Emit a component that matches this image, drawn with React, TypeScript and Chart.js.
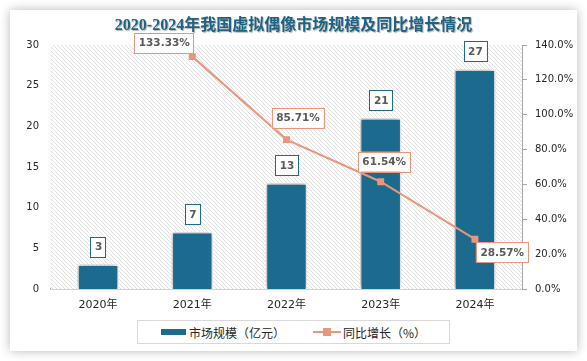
import React, { useEffect, useRef } from "react";
import { Chart, registerables } from "chart.js";

Chart.register(...registerables);

const categories = ["2020年", "2021年", "2022年", "2023年", "2024年"];
const marketSize = [3, 7, 13, 21, 27];
const growthRate: (number | null)[] = [null, 133.33, 85.71, 61.54, 28.57];
const growthLabelPlacement = ["", "left-above", "above-right", "above", "right-below"];
const titleText = "2020-2024年我国虚拟偶像市场规模及同比增长情况";
const legendBar = "市场规模（亿元）";
const legendLine = "同比增长（%）";

const BAR_COLOR = "#1c6b8e";
const LINE_COLOR = "#e9967a";
const LABEL_TEXT = "#595959";

function makePattern(ctx: CanvasRenderingContext2D) {
  const c = document.createElement("canvas");
  c.width = 4;
  c.height = 4;
  const p = c.getContext("2d")!;
  p.fillStyle = "#ffffff";
  p.fillRect(0, 0, 4, 4);
  p.strokeStyle = "#dcdcdc";
  p.lineWidth = 0.9;
  p.beginPath();
  p.moveTo(-1, -1);
  p.lineTo(5, 5);
  p.moveTo(-1, 3);
  p.lineTo(1, 5);
  p.moveTo(3, -1);
  p.lineTo(5, 1);
  p.stroke();
  return ctx.createPattern(c, "repeat");
}

const hatchPlugin = {
  id: "hatch",
  beforeDatasetsDraw(chart: any) {
    const { ctx, chartArea } = chart;
    const pat = makePattern(ctx);
    if (!pat) return;
    ctx.save();
    ctx.fillStyle = pat;
    ctx.fillRect(chartArea.left, chartArea.top, chartArea.right - chartArea.left, chartArea.bottom - chartArea.top);
    ctx.restore();
  },
};

const shadowPlugin = {
  id: "barShadow",
  beforeDatasetDraw(chart: any, args: any) {
    if (args.meta.type !== "bar") return;
    const ctx = chart.ctx;
    ctx.save();
    ctx.shadowColor = "rgba(0,0,0,0.35)";
    ctx.shadowBlur = 6;
    ctx.shadowOffsetX = -1;
    ctx.shadowOffsetY = -1;
  },
  afterDatasetDraw(chart: any, args: any) {
    if (args.meta.type !== "bar") return;
    chart.ctx.restore();
  },
};

function drawBox(ctx: CanvasRenderingContext2D, text: string, x: number, y: number, border: string) {
  const w = ctx.measureText(text).width + 8;
  const h = 20;
  ctx.fillStyle = "#ffffff";
  ctx.fillRect(x, y, w, h);
  ctx.strokeStyle = border;
  ctx.lineWidth = 1;
  ctx.strokeRect(Math.round(x) + 0.5, Math.round(y) + 0.5, Math.round(w), h);
  ctx.fillStyle = LABEL_TEXT;
  ctx.textAlign = "center";
  ctx.textBaseline = "middle";
  ctx.fillText(text, x + w / 2 + 0.5, y + h / 2 + 1);
}

const labelPlugin = {
  id: "boxLabels",
  afterDatasetsDraw(chart: any) {
    const ctx = chart.ctx;
    ctx.save();
    ctx.font = "bold 10.5px 'DejaVu Sans'";
    const barMeta = chart.getDatasetMeta(0);
    barMeta.data.forEach((el: any, i: number) => {
      const t = String(marketSize[i]);
      const w = ctx.measureText(t).width + 8;
      drawBox(ctx, t, el.x - w / 2, el.y - 8 - 20, BAR_COLOR);
    });
    const lineMeta = chart.getDatasetMeta(1);
    lineMeta.data.forEach((el: any, i: number) => {
      const v = growthRate[i];
      if (v == null) return;
      const t = v.toFixed(2) + "%";
      const w = ctx.measureText(t).width + 8;
      const h = 20;
      const place = growthLabelPlacement[i];
      let x = el.x - w / 2;
      let y = el.y - 10 - h;
      if (place === "left-above") {
        x = el.x - w + 1;
        y = el.y - 4 - h;
      } else if (place === "above-right") {
        x = el.x - w / 2 + 11;
        y = el.y - 12 - h;
      } else if (place === "above") {
        x = el.x - w / 2 + 3;
        y = el.y - 10 - h;
      } else if (place === "right-below") {
        x = el.x + 1;
        y = el.y + 3;
      }
      drawBox(ctx, t, x, y, LINE_COLOR);
    });
    ctx.restore();
  },
};

export default function App() {
  const ref = useRef<HTMLCanvasElement>(null);
  useEffect(() => {
    if (!ref.current) return;
    const chart = new Chart(ref.current, {
      type: "bar",
      data: {
        labels: categories,
        datasets: [
          {
            type: "bar",
            label: legendBar,
            data: marketSize,
            backgroundColor: BAR_COLOR,
            borderColor: "#ffffff",
            borderWidth: 1.5,
            barPercentage: 0.44,
            categoryPercentage: 1,
            yAxisID: "y",
            order: 2,
          },
          {
            type: "line",
            label: legendLine,
            data: growthRate,
            borderColor: LINE_COLOR,
            backgroundColor: LINE_COLOR,
            borderWidth: 2,
            pointStyle: "rect",
            pointRadius: 3.5,
            pointBackgroundColor: LINE_COLOR,
            pointBorderColor: LINE_COLOR,
            tension: 0,
            yAxisID: "y1",
            order: 1,
          } as any,
        ],
      },
      options: {
        animation: false,
        responsive: false,
        maintainAspectRatio: false,
        layout: { padding: { top: 35, bottom: 38, left: 0, right: 0 } },
        plugins: {
          legend: { display: false },
          tooltip: { enabled: false },
          title: { display: false },
        },
        scales: {
          x: {
            offset: true,
            grid: { display: false, drawTicks: false },
            border: { display: true, color: "#a6a6a6", width: 1.5 },
            ticks: {
              color: "#262626",
              font: { family: "'DejaVu Sans', 'Noto Sans CJK SC'", size: 11 },
              padding: 10,
            },
            afterFit(s: any) {
              s.height = 24;
            },
          },
          y: {
            position: "left",
            min: 0,
            max: 30,
            grid: { display: false, drawTicks: false },
            border: { display: false },
            ticks: {
              stepSize: 5,
              color: "#262626",
              font: { family: "'DejaVu Sans'", size: 10 },
              padding: 12,
            },
            afterFit(s: any) {
              s.width = 41;
            },
          },
          y1: {
            position: "right",
            min: 0,
            max: 140,
            grid: { display: true, drawOnChartArea: false, drawTicks: true, tickLength: 5, color: "#a6a6a6" },
            border: { display: true, color: "#a6a6a6" },
            ticks: {
              stepSize: 20,
              color: "#262626",
              font: { family: "'DejaVu Sans'", size: 10 },
              padding: 8,
              callback: (v: any) => Number(v).toFixed(1) + "%",
            },
            afterFit(s: any) {
              s.width = 55;
            },
          },
        },
      },
      plugins: [hatchPlugin, shadowPlugin, labelPlugin],
    });
    return () => chart.destroy();
  }, []);

  return (
    <div style={{ position: "fixed", left: 0, top: 0, width: 587, height: 361, background: "#ffffff", overflow: "hidden" }}>
      <div
        style={{
          position: "absolute",
          left: 10,
          top: 10,
          width: 567,
          height: 341,
          background: "#ffffff",
          boxShadow: "0 0 10px rgba(0,0,0,0.28)",
        }}
      >
        <canvas ref={ref} width={567} height={341} style={{ position: "absolute", left: 0, top: 0, width: 567, height: 341 }} />
        <div
          style={{
            position: "absolute",
            left: 0,
            top: 5,
            width: 567,
            textAlign: "center",
            fontFamily: "'Liberation Serif', 'Noto Sans CJK SC'",
            fontWeight: "bold",
            fontSize: 16,
            lineHeight: "20px",
            color: "#1f6384",
            textShadow: "1px 1px 1px rgba(0,0,0,0.3)",
            whiteSpace: "nowrap",
          }}
        >
          {titleText}
        </div>
        <div
          style={{
            position: "absolute",
            left: 127,
            top: 310,
            width: 311,
            height: 22,
            border: "1px solid #d9d9d9",
            display: "flex",
            alignItems: "center",
            justifyContent: "center",
            fontFamily: "'Noto Sans CJK SC'",
            fontSize: 12,
            color: "#262626",
            background: "#ffffff",
          }}
        >
          <div style={{ display: "flex", alignItems: "center" }}>
            <div style={{ width: 25, height: 6, background: BAR_COLOR, marginRight: 3 }} />
            <span>{legendBar}</span>
          </div>
          <div style={{ display: "flex", alignItems: "center", marginLeft: 28 }}>
            <div style={{ position: "relative", width: 28, height: 8, marginRight: 2 }}>
              <div style={{ position: "absolute", left: 0, top: 3, width: 28, height: 2, background: LINE_COLOR }} />
              <div style={{ position: "absolute", left: 10, top: 0, width: 8, height: 8, background: LINE_COLOR }} />
            </div>
            <span>{legendLine}</span>
          </div>
        </div>
      </div>
    </div>
  );
}
